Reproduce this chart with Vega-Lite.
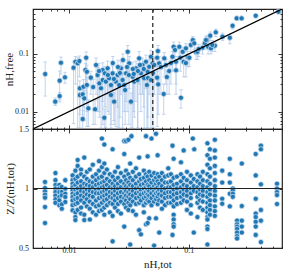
{
"$schema": "https://vega.github.io/schema/vega-lite/v6.json",
"padding": {"left": 2, "top": 4, "right": 5, "bottom": 0},
"spacing": 0,
"bounds": "flush",
"config": {
  "font": "Liberation Serif",
  "view": {"stroke": "#222", "strokeWidth": 1.2},
  "axis": {"grid": false, "domain": false, "labelFont": "Liberation Serif", "labelFontSize": 8, "labelColor": "#222", "tickColor": "#222", "tickWidth": 0.9, "titleFont": "Liberation Serif", "titleFontWeight": "normal", "titleFontSize": 11, "titleColor": "#222", "labelFlush": false, "labelOverlap": false}
},
"datasets": {
  "top": [
{"x":0.00632,"y":0.0449,"lo":0.0186,"hi":0.0724},
{"x":0.00767,"y":0.0149,"lo":0.0128,"hi":0.0172},
{"x":0.00835,"y":0.0186,"lo":0.016,"hi":0.0215},
{"x":0.00835,"y":0.0344,"lo":0.0147,"hi":0.0506},
{"x":0.00856,"y":0.0704,"lo":0.045,"hi":0.088},
{"x":0.00924,"y":0.0393,"lo":0.031,"hi":0.048},
{"x":0.0109,"y":0.0577,"lo":0.0062,"hi":0.072},
{"x":0.0113,"y":0.0733,"lo":0.03,"hi":0.09},
{"x":0.0118,"y":0.0688,"lo":0.0052,"hi":0.086},
{"x":0.0122,"y":0.0753,"lo":0.04,"hi":0.092},
{"x":0.0139,"y":0.086,"lo":0.021,"hi":0.108},
{"x":0.0137,"y":0.0526,"lo":0.03,"hi":0.068},
{"x":0.0141,"y":0.049,"lo":0.0055,"hi":0.064},
{"x":0.0123,"y":0.0254,"lo":0.0052,"hi":0.034},
{"x":0.0123,"y":0.0194,"lo":0.009,"hi":0.026},
{"x":0.013,"y":0.0199,"lo":0.008,"hi":0.027},
{"x":0.0132,"y":0.027,"lo":0.012,"hi":0.036},
{"x":0.0141,"y":0.029,"lo":0.01,"hi":0.039},
{"x":0.0152,"y":0.0388,"lo":0.02,"hi":0.05},
{"x":0.0134,"y":0.017,"lo":0.007,"hi":0.023},
{"x":0.0145,"y":0.0114,"lo":0.0055,"hi":0.016},
{"x":0.013,"y":0.00745,"lo":0.005,"hi":0.0105},
{"x":0.0165,"y":0.011,"lo":0.006,"hi":0.016},
{"x":0.0173,"y":0.0431,"lo":0.01,"hi":0.058},
{"x":0.0179,"y":0.0309,"lo":0.008,"hi":0.042},
{"x":0.0185,"y":0.0254,"lo":0.0052,"hi":0.035},
{"x":0.0191,"y":0.0526,"lo":0.015,"hi":0.07},
{"x":0.0191,"y":0.0353,"lo":0.006,"hi":0.047},
{"x":0.0197,"y":0.00784,"lo":0.005,"hi":0.011},
{"x":0.0199,"y":0.0461,"lo":0.012,"hi":0.06},
{"x":0.0203,"y":0.0331,"lo":0.0052,"hi":0.045},
{"x":0.021,"y":0.0563,"lo":0.02,"hi":0.075},
{"x":0.0216,"y":0.0378,"lo":0.009,"hi":0.05},
{"x":0.0224,"y":0.0289,"lo":0.0052,"hi":0.04},
{"x":0.0224,"y":0.0194,"lo":0.006,"hi":0.027},
{"x":0.0231,"y":0.0461,"lo":0.015,"hi":0.062},
{"x":0.0238,"y":0.0149,"lo":0.006,"hi":0.021},
{"x":0.0246,"y":0.0331,"lo":0.0055,"hi":0.045},
{"x":0.0254,"y":0.0431,"lo":0.012,"hi":0.058},
{"x":0.0262,"y":0.0289,"lo":0.0052,"hi":0.04},
{"x":0.0271,"y":0.0563,"lo":0.02,"hi":0.075},
{"x":0.028,"y":0.0353,"lo":0.0052,"hi":0.048},
{"x":0.0289,"y":0.0289,"lo":0.01,"hi":0.039},
{"x":0.0299,"y":0.0461,"lo":0.015,"hi":0.06},
{"x":0.0309,"y":0.109,"lo":0.05,"hi":0.14},
{"x":0.0318,"y":0.0688,"lo":0.025,"hi":0.09},
{"x":0.0329,"y":0.0149,"lo":0.0052,"hi":0.021},
{"x":0.034,"y":0.0403,"lo":0.0052,"hi":0.055},
{"x":0.035,"y":0.0331,"lo":0.008,"hi":0.045},
{"x":0.0362,"y":0.0563,"lo":0.015,"hi":0.075},
{"x":0.0373,"y":0.0353,"lo":0.0052,"hi":0.048},
{"x":0.0385,"y":0.0839,"lo":0.03,"hi":0.11},
{"x":0.0398,"y":0.0461,"lo":0.01,"hi":0.062},
{"x":0.0411,"y":0.0642,"lo":0.02,"hi":0.085},
{"x":0.0424,"y":0.0378,"lo":0.0052,"hi":0.05},
{"x":0.0439,"y":0.0733,"lo":0.025,"hi":0.095},
{"x":0.0453,"y":0.049,"lo":0.008,"hi":0.065},
{"x":0.0467,"y":0.06,"lo":0.02,"hi":0.08},
{"x":0.0483,"y":0.0894,"lo":0.04,"hi":0.115},
{"x":0.0499,"y":0.0688,"lo":0.02,"hi":0.09},
{"x":0.0168,"y":0.0643,"lo":0.02,"hi":0.085},
{"x":0.0178,"y":0.0505,"lo":0.01,"hi":0.068},
{"x":0.0232,"y":0.0695,"lo":0.02,"hi":0.09},
{"x":0.0256,"y":0.0593,"lo":0.0052,"hi":0.078},
{"x":0.0282,"y":0.0784,"lo":0.03,"hi":0.1},
{"x":0.0316,"y":0.0431,"lo":0.006,"hi":0.058},
{"x":0.0341,"y":0.0548,"lo":0.015,"hi":0.072},
{"x":0.0376,"y":0.0505,"lo":0.0052,"hi":0.068},
{"x":0.0391,"y":0.0643,"lo":0.02,"hi":0.085},
{"x":0.0421,"y":0.0548,"lo":0.012,"hi":0.072},
{"x":0.0456,"y":0.0383,"lo":0.0052,"hi":0.052},
{"x":0.0305,"y":0.0593,"lo":0.01,"hi":0.078},
{"x":0.0237,"y":0.0368,"lo":0.007,"hi":0.05},
{"x":0.0211,"y":0.0431,"lo":0.01,"hi":0.058},
{"x":0.0266,"y":0.0468,"lo":0.008,"hi":0.062},
{"x":0.0347,"y":0.0449,"lo":0.01,"hi":0.06},
{"x":0.0159,"y":0.0267,"lo":0.006,"hi":0.036},
{"x":0.0294,"y":0.0237,"lo":0.006,"hi":0.032},
{"x":0.0552,"y":0.112,"lo":0.06,"hi":0.14},
{"x":0.0544,"y":0.086,"lo":0.03,"hi":0.11},
{"x":0.0565,"y":0.0688,"lo":0.02,"hi":0.09},
{"x":0.0515,"y":0.0643,"lo":0.02,"hi":0.085},
{"x":0.0544,"y":0.0388,"lo":0.0055,"hi":0.05},
{"x":0.0555,"y":0.0297,"lo":0.009,"hi":0.04},
{"x":0.0617,"y":0.0202,"lo":0.009,"hi":0.03},
{"x":0.0624,"y":0.0839,"lo":0.04,"hi":0.105},
{"x":0.0685,"y":0.0505,"lo":0.02,"hi":0.065},
{"x":0.0731,"y":0.0894,"lo":0.05,"hi":0.11},
{"x":0.0747,"y":0.133,"lo":0.09,"hi":0.16},
{"x":0.0767,"y":0.117,"lo":0.07,"hi":0.14},
{"x":0.0782,"y":0.0733,"lo":0.03,"hi":0.09},
{"x":0.0782,"y":0.052,"lo":0.02,"hi":0.068},
{"x":0.0833,"y":0.133,"lo":0.09,"hi":0.16},
{"x":0.086,"y":0.0174,"lo":0.0115,"hi":0.024},
{"x":0.0849,"y":0.086,"lo":0.05,"hi":0.105},
{"x":0.0889,"y":0.109,"lo":0.07,"hi":0.13},
{"x":0.0906,"y":0.0733,"lo":0.04,"hi":0.09},
{"x":0.0946,"y":0.125,"lo":0.09,"hi":0.15},
{"x":0.0977,"y":0.0894,"lo":0.06,"hi":0.11},
{"x":0.101,"y":0.086,"lo":0.06,"hi":0.1},
{"x":0.104,"y":0.143,"lo":0.11,"hi":0.17},
{"x":0.108,"y":0.174,"lo":0.14,"hi":0.2},
{"x":0.111,"y":0.153,"lo":0.12,"hi":0.18},
{"x":0.115,"y":0.107,"lo":0.08,"hi":0.125},
{"x":0.118,"y":0.109,"lo":0.08,"hi":0.13},
{"x":0.13,"y":0.128,"lo":0.1,"hi":0.15},
{"x":0.142,"y":0.174,"lo":0.14,"hi":0.21},
{"x":0.145,"y":0.133,"lo":0.1,"hi":0.16},
{"x":0.151,"y":0.207,"lo":0.17,"hi":0.24},
{"x":0.153,"y":0.125,"lo":0.1,"hi":0.15},
{"x":0.165,"y":0.139,"lo":0.11,"hi":0.16},
{"x":0.168,"y":0.237,"lo":0.2,"hi":0.27},
{"x":0.191,"y":0.199,"lo":0.17,"hi":0.23},
{"x":0.22,"y":0.191,"lo":0.15,"hi":0.22},
{"x":0.232,"y":0.308,"lo":0.27,"hi":0.34},
{"x":0.251,"y":0.414,"lo":0.38,"hi":0.45},
{"x":0.276,"y":0.414,"lo":0.38,"hi":0.45},
{"x":0.362,"y":0.459,"lo":0.43,"hi":0.49},
{"x":0.56,"y":0.538,"lo":0.51,"hi":0.57},
{"x":0.0585,"y":0.0593,"lo":0.02,"hi":0.075},
{"x":0.0644,"y":0.0643,"lo":0.03,"hi":0.08},
{"x":0.0502,"y":0.0468,"lo":0.0052,"hi":0.062},
{"x":0.0656,"y":0.0398,"lo":0.02,"hi":0.05},
{"x":0.0709,"y":0.0695,"lo":0.03,"hi":0.085},
{"x":0.0946,"y":0.0695,"lo":0.04,"hi":0.085},
{"x":0.121,"y":0.122,"lo":0.09,"hi":0.145},
{"x":0.136,"y":0.154,"lo":0.12,"hi":0.18},
{"x":0.157,"y":0.143,"lo":0.11,"hi":0.17},
{"x":0.139,"y":0.174,"lo":0.14,"hi":0.2},
{"x":0.0483,"y":0.0353,"lo":0.0052,"hi":0.048},
{"x":0.0447,"y":0.0289,"lo":0.0052,"hi":0.04}
  ],
  "bot": [
{"x":0.0063,"y":1.055},{"x":0.0063,"y":1.004},{"x":0.0063,"y":0.976},{"x":0.0063,"y":0.948},{"x":0.0063,"y":0.923},{"x":0.0063,"y":0.845},{"x":0.0063,"y":0.71},
{"x":0.0077,"y":1.13},{"x":0.0077,"y":1.07},{"x":0.0077,"y":1.03},{"x":0.0077,"y":1.0},{"x":0.0077,"y":0.97},{"x":0.0077,"y":0.94},{"x":0.0077,"y":0.91},{"x":0.0077,"y":0.88},
{"x":0.0083,"y":1.03},{"x":0.0083,"y":1.0},{"x":0.0083,"y":0.97},{"x":0.0083,"y":0.93},{"x":0.0083,"y":0.9},{"x":0.0083,"y":0.86},
{"x":0.0087,"y":1.013},{"x":0.0087,"y":0.971},{"x":0.0087,"y":0.943},{"x":0.0087,"y":0.867},{"x":0.0087,"y":0.83},
{"x":0.0093,"y":1.07},{"x":0.0093,"y":0.998},{"x":0.0093,"y":0.956},{"x":0.0093,"y":0.929},{"x":0.0093,"y":0.887},
{"x":0.0107,"y":1.11},{"x":0.0107,"y":1.07},{"x":0.0107,"y":1.04},{"x":0.0107,"y":1.01},{"x":0.0107,"y":0.985},{"x":0.0107,"y":0.956},{"x":0.0107,"y":0.929},{"x":0.0107,"y":0.9},{"x":0.0107,"y":0.86},{"x":0.0107,"y":0.817},
{"x":0.0113,"y":1.15},{"x":0.0113,"y":1.08},{"x":0.0113,"y":1.03},{"x":0.0113,"y":0.99},{"x":0.0113,"y":0.95},{"x":0.0113,"y":0.91},{"x":0.0113,"y":0.87},{"x":0.0113,"y":0.8},{"x":0.0113,"y":0.76},{"x":0.0113,"y":0.735},
{"x":0.0118,"y":1.24},{"x":0.0118,"y":1.19},{"x":0.0118,"y":1.1},{"x":0.0118,"y":1.05},{"x":0.0118,"y":1.0},{"x":0.0118,"y":0.96},{"x":0.0118,"y":0.92},{"x":0.0118,"y":0.88},{"x":0.0118,"y":0.82},
{"x":0.0126,"y":1.16},{"x":0.0126,"y":1.12},{"x":0.0126,"y":1.06},{"x":0.0126,"y":1.02},{"x":0.0126,"y":0.98},{"x":0.0126,"y":0.94},{"x":0.0126,"y":0.9},{"x":0.0126,"y":0.84},{"x":0.0126,"y":0.79},
{"x":0.0134,"y":1.26},{"x":0.0134,"y":1.1},{"x":0.0134,"y":1.04},{"x":0.0134,"y":1.0},{"x":0.0134,"y":0.97},{"x":0.0134,"y":0.93},{"x":0.0134,"y":0.88},{"x":0.0134,"y":0.78},{"x":0.0134,"y":0.735},
{"x":0.0141,"y":1.14},{"x":0.0141,"y":1.08},{"x":0.0141,"y":1.03},{"x":0.0141,"y":0.99},{"x":0.0141,"y":0.95},{"x":0.0141,"y":0.91},{"x":0.0141,"y":0.85},
{"x":0.0149,"y":1.16},{"x":0.0149,"y":1.06},{"x":0.0149,"y":1.02},{"x":0.0149,"y":0.98},{"x":0.0149,"y":0.94},{"x":0.0149,"y":0.89},{"x":0.0149,"y":0.83},{"x":0.0149,"y":0.74},
{"x":0.0158,"y":1.2},{"x":0.0158,"y":1.1},{"x":0.0158,"y":1.05},{"x":0.0158,"y":1.01},{"x":0.0158,"y":0.97},{"x":0.0158,"y":0.93},{"x":0.0158,"y":0.87},{"x":0.0158,"y":0.8},
{"x":0.0168,"y":1.12},{"x":0.0168,"y":1.07},{"x":0.0168,"y":1.03},{"x":0.0168,"y":0.99},{"x":0.0168,"y":0.96},{"x":0.0168,"y":0.9},{"x":0.0168,"y":0.85},{"x":0.0168,"y":0.78},
{"x":0.0178,"y":1.23},{"x":0.0178,"y":1.15},{"x":0.0178,"y":1.09},{"x":0.0178,"y":1.04},{"x":0.0178,"y":1.0},{"x":0.0178,"y":0.96},{"x":0.0178,"y":0.92},{"x":0.0178,"y":0.86},{"x":0.0178,"y":0.81},
{"x":0.0188,"y":1.42},{"x":0.0188,"y":1.18},{"x":0.0188,"y":1.1},{"x":0.0188,"y":1.05},{"x":0.0188,"y":1.01},{"x":0.0188,"y":0.97},{"x":0.0188,"y":0.93},{"x":0.0188,"y":0.88},{"x":0.0188,"y":0.82},
{"x":0.0197,"y":1.37},{"x":0.0197,"y":1.21},{"x":0.0197,"y":1.13},{"x":0.0197,"y":1.06},{"x":0.0197,"y":1.02},{"x":0.0197,"y":0.98},{"x":0.0197,"y":0.94},{"x":0.0197,"y":0.9},{"x":0.0197,"y":0.84},{"x":0.0197,"y":0.78},
{"x":0.0207,"y":1.16},{"x":0.0207,"y":1.08},{"x":0.0207,"y":1.03},{"x":0.0207,"y":0.99},{"x":0.0207,"y":0.95},{"x":0.0207,"y":0.91},{"x":0.0207,"y":0.86},
{"x":0.0219,"y":1.12},{"x":0.0219,"y":1.06},{"x":0.0219,"y":1.01},{"x":0.0219,"y":0.97},{"x":0.0219,"y":0.93},{"x":0.0219,"y":0.88},{"x":0.0219,"y":0.8},
{"x":0.0231,"y":1.33},{"x":0.0231,"y":1.1},{"x":0.0231,"y":1.04},{"x":0.0231,"y":1.0},{"x":0.0231,"y":0.96},{"x":0.0231,"y":0.92},{"x":0.0231,"y":0.87},{"x":0.0231,"y":0.77},{"x":0.0231,"y":0.556},
{"x":0.0242,"y":1.14},{"x":0.0242,"y":1.07},{"x":0.0242,"y":1.02},{"x":0.0242,"y":0.98},{"x":0.0242,"y":0.94},{"x":0.0242,"y":0.9},{"x":0.0242,"y":0.84},
{"x":0.0256,"y":1.18},{"x":0.0256,"y":1.09},{"x":0.0256,"y":1.04},{"x":0.0256,"y":1.0},{"x":0.0256,"y":0.96},{"x":0.0256,"y":0.92},{"x":0.0256,"y":0.87},{"x":0.0256,"y":0.81},
{"x":0.0271,"y":1.13},{"x":0.0271,"y":1.06},{"x":0.0271,"y":1.01},{"x":0.0271,"y":0.97},{"x":0.0271,"y":0.93},{"x":0.0271,"y":0.89},{"x":0.0271,"y":0.79},
{"x":0.0289,"y":1.4},{"x":0.0289,"y":1.29},{"x":0.0289,"y":1.1},{"x":0.0289,"y":1.04},{"x":0.0289,"y":1.0},{"x":0.0289,"y":0.96},{"x":0.0289,"y":0.92},{"x":0.0289,"y":0.87},{"x":0.0289,"y":0.68},
{"x":0.0299,"y":1.4},{"x":0.0299,"y":1.15},{"x":0.0299,"y":1.07},{"x":0.0299,"y":1.02},{"x":0.0299,"y":0.98},{"x":0.0299,"y":0.94},{"x":0.0299,"y":0.9},{"x":0.0299,"y":0.84},
{"x":0.0313,"y":1.41},{"x":0.0313,"y":1.12},{"x":0.0313,"y":1.05},{"x":0.0313,"y":1.01},{"x":0.0313,"y":0.97},{"x":0.0313,"y":0.93},{"x":0.0313,"y":0.88},{"x":0.0313,"y":0.82},
{"x":0.0324,"y":1.21},{"x":0.0324,"y":1.09},{"x":0.0324,"y":1.03},{"x":0.0324,"y":0.99},{"x":0.0324,"y":0.95},{"x":0.0324,"y":0.91},{"x":0.0324,"y":0.86},{"x":0.0324,"y":0.53},
{"x":0.0332,"y":1.44},
{"x":0.0341,"y":1.14},{"x":0.0341,"y":1.07},{"x":0.0341,"y":1.02},{"x":0.0341,"y":0.98},{"x":0.0341,"y":0.94},{"x":0.0341,"y":0.89},{"x":0.0341,"y":0.81},
{"x":0.0362,"y":1.17},{"x":0.0362,"y":1.1},{"x":0.0362,"y":1.04},{"x":0.0362,"y":1.0},{"x":0.0362,"y":0.96},{"x":0.0362,"y":0.92},{"x":0.0362,"y":0.87},{"x":0.0362,"y":0.78},
{"x":0.0385,"y":1.26},{"x":0.0385,"y":1.12},{"x":0.0385,"y":1.06},{"x":0.0385,"y":1.01},{"x":0.0385,"y":0.97},{"x":0.0385,"y":0.93},{"x":0.0385,"y":0.88},{"x":0.0385,"y":0.65},
{"x":0.0398,"y":1.08},{"x":0.0398,"y":1.03},{"x":0.0398,"y":0.99},{"x":0.0398,"y":0.95},{"x":0.0398,"y":0.9},{"x":0.0398,"y":0.615},
{"x":0.0421,"y":1.15},{"x":0.0421,"y":1.09},{"x":0.0421,"y":1.04},{"x":0.0421,"y":1.0},{"x":0.0421,"y":0.96},{"x":0.0421,"y":0.92},{"x":0.0421,"y":0.86},{"x":0.0421,"y":0.8},
{"x":0.0439,"y":1.44},{"x":0.0439,"y":1.12},{"x":0.0439,"y":1.06},{"x":0.0439,"y":1.01},{"x":0.0439,"y":0.97},{"x":0.0439,"y":0.93},{"x":0.0439,"y":0.88},{"x":0.0439,"y":0.7},
{"x":0.0453,"y":1.27},{"x":0.0453,"y":1.1},{"x":0.0453,"y":1.03},{"x":0.0453,"y":0.99},{"x":0.0453,"y":0.95},{"x":0.0453,"y":0.9},{"x":0.0453,"y":0.71},
{"x":0.0467,"y":1.14},{"x":0.0467,"y":1.07},{"x":0.0467,"y":1.02},{"x":0.0467,"y":0.98},{"x":0.0467,"y":0.94},{"x":0.0467,"y":0.89},{"x":0.0467,"y":0.75},
{"x":0.0488,"y":1.42},{"x":0.0488,"y":1.11},{"x":0.0488,"y":1.05},{"x":0.0488,"y":1.0},{"x":0.0488,"y":0.96},{"x":0.0488,"y":0.92},{"x":0.0488,"y":0.86},
{"x":0.0513,"y":1.13},{"x":0.0513,"y":1.07},{"x":0.0513,"y":1.02},{"x":0.0513,"y":0.98},{"x":0.0513,"y":0.94},{"x":0.0513,"y":0.89},{"x":0.0513,"y":0.52},
{"x":0.0532,"y":1.46},{"x":0.0532,"y":1.09},{"x":0.0532,"y":1.04},{"x":0.0532,"y":1.0},{"x":0.0532,"y":0.96},{"x":0.0532,"y":0.91},{"x":0.0532,"y":0.75},
{"x":0.0549,"y":1.28},{"x":0.0549,"y":1.12},{"x":0.0549,"y":1.06},{"x":0.0549,"y":1.01},{"x":0.0549,"y":0.97},{"x":0.0549,"y":0.93},{"x":0.0549,"y":0.87},
{"x":0.0566,"y":1.1},{"x":0.0566,"y":1.04},{"x":0.0566,"y":0.99},{"x":0.0566,"y":0.95},{"x":0.0566,"y":0.9},{"x":0.0566,"y":0.63},
{"x":0.0596,"y":1.13},{"x":0.0596,"y":1.07},{"x":0.0596,"y":1.02},{"x":0.0596,"y":0.98},{"x":0.0596,"y":0.94},{"x":0.0596,"y":0.89},{"x":0.0596,"y":0.83},
{"x":0.0632,"y":1.1},{"x":0.0632,"y":1.05},{"x":0.0632,"y":1.0},{"x":0.0632,"y":0.96},{"x":0.0632,"y":0.92},{"x":0.0632,"y":0.86},
{"x":0.0673,"y":1.17},{"x":0.0673,"y":1.11},{"x":0.0673,"y":1.05},{"x":0.0673,"y":1.01},{"x":0.0673,"y":0.97},{"x":0.0673,"y":0.93},{"x":0.0673,"y":0.88},
{"x":0.0709,"y":1.12},{"x":0.0709,"y":1.06},{"x":0.0709,"y":1.01},{"x":0.0709,"y":0.97},{"x":0.0709,"y":0.93},{"x":0.0709,"y":0.88},
{"x":0.0731,"y":1.36},{"x":0.0731,"y":0.61},
{"x":0.0747,"y":1.25},{"x":0.0747,"y":1.09},{"x":0.0747,"y":1.03},{"x":0.0747,"y":0.99},{"x":0.0747,"y":0.95},{"x":0.0747,"y":0.9},{"x":0.0747,"y":0.85},{"x":0.0747,"y":0.78},{"x":0.0747,"y":0.74},{"x":0.0747,"y":0.7},{"x":0.0747,"y":0.68},
{"x":0.0796,"y":1.1},{"x":0.0796,"y":1.04},{"x":0.0796,"y":1.0},{"x":0.0796,"y":0.96},{"x":0.0796,"y":0.92},{"x":0.0796,"y":0.87},
{"x":0.086,"y":1.22},{"x":0.086,"y":1.12},{"x":0.086,"y":1.06},{"x":0.086,"y":1.01},{"x":0.086,"y":0.97},{"x":0.086,"y":0.93},{"x":0.086,"y":0.88},
{"x":0.0906,"y":1.32},{"x":0.0906,"y":1.09},{"x":0.0906,"y":1.03},{"x":0.0906,"y":0.99},{"x":0.0906,"y":0.95},{"x":0.0906,"y":0.9},
{"x":0.0965,"y":1.14},{"x":0.0965,"y":1.07},{"x":0.0965,"y":1.02},{"x":0.0965,"y":0.98},{"x":0.0965,"y":0.94},{"x":0.0965,"y":0.89},{"x":0.0965,"y":0.82},
{"x":0.104,"y":1.11},{"x":0.104,"y":1.05},{"x":0.104,"y":1.0},{"x":0.104,"y":0.96},{"x":0.104,"y":0.92},{"x":0.104,"y":0.86},{"x":0.104,"y":0.79},
{"x":0.108,"y":1.42},
{"x":0.11,"y":1.08},{"x":0.11,"y":1.02},{"x":0.11,"y":0.98},{"x":0.11,"y":0.63},
{"x":0.111,"y":1.33},
{"x":0.118,"y":1.12},{"x":0.118,"y":1.06},{"x":0.118,"y":1.01},{"x":0.118,"y":0.97},{"x":0.118,"y":0.93},{"x":0.118,"y":0.88},{"x":0.118,"y":0.76},
{"x":0.124,"y":1.1},{"x":0.124,"y":1.04},{"x":0.124,"y":0.99},{"x":0.124,"y":0.95},{"x":0.124,"y":0.9},{"x":0.124,"y":0.84},
{"x":0.131,"y":1.14},{"x":0.131,"y":1.07},{"x":0.131,"y":1.02},{"x":0.131,"y":0.98},{"x":0.131,"y":0.94},{"x":0.131,"y":0.89},{"x":0.131,"y":0.82},
{"x":0.143,"y":1.38},{"x":0.143,"y":1.28},{"x":0.143,"y":1.2},{"x":0.143,"y":1.12},{"x":0.143,"y":1.06},{"x":0.143,"y":1.01},{"x":0.143,"y":0.97},{"x":0.143,"y":0.93},{"x":0.143,"y":0.88},{"x":0.143,"y":0.84},{"x":0.143,"y":0.8},{"x":0.143,"y":0.76},{"x":0.143,"y":0.74},{"x":0.143,"y":0.68},{"x":0.143,"y":0.66},{"x":0.143,"y":0.53},
{"x":0.15,"y":1.33},{"x":0.15,"y":1.25},{"x":0.15,"y":1.17},{"x":0.15,"y":1.1},{"x":0.15,"y":1.04},{"x":0.15,"y":0.99},{"x":0.15,"y":0.95},{"x":0.15,"y":0.9},{"x":0.15,"y":0.86},{"x":0.15,"y":0.82},{"x":0.15,"y":0.78},
{"x":0.165,"y":1.41},{"x":0.165,"y":1.32},{"x":0.165,"y":1.26},{"x":0.165,"y":1.19},{"x":0.165,"y":1.13},{"x":0.165,"y":1.07},{"x":0.165,"y":1.02},{"x":0.165,"y":0.98},{"x":0.165,"y":0.94},{"x":0.165,"y":0.9},{"x":0.165,"y":0.85},{"x":0.165,"y":0.81},{"x":0.165,"y":0.77},
{"x":0.19,"y":1.15},{"x":0.19,"y":1.05},{"x":0.19,"y":0.914},{"x":0.19,"y":0.872},
{"x":0.22,"y":1.25},{"x":0.22,"y":1.12},{"x":0.22,"y":1.05},{"x":0.22,"y":0.956},{"x":0.22,"y":0.85},
{"x":0.233,"y":1.0},{"x":0.233,"y":0.985},{"x":0.233,"y":0.956},{"x":0.233,"y":0.93},
{"x":0.253,"y":0.73},{"x":0.253,"y":0.7},{"x":0.253,"y":0.68},{"x":0.253,"y":0.66},{"x":0.253,"y":0.63},{"x":0.253,"y":0.6},{"x":0.253,"y":0.58},
{"x":0.277,"y":1.21},{"x":0.277,"y":0.853},{"x":0.277,"y":0.73},{"x":0.277,"y":0.68},{"x":0.277,"y":0.63},
{"x":0.362,"y":1.29},{"x":0.362,"y":1.11},{"x":0.362,"y":0.914},{"x":0.362,"y":0.79},{"x":0.362,"y":0.76},{"x":0.362,"y":0.72},{"x":0.362,"y":0.68},{"x":0.362,"y":0.61},
{"x":0.4,"y":1.36},{"x":0.4,"y":1.33},{"x":0.4,"y":1.035},{"x":0.4,"y":0.82},{"x":0.4,"y":0.73},{"x":0.4,"y":0.55},
{"x":0.545,"y":1.04},{"x":0.545,"y":1.0},{"x":0.545,"y":0.97},{"x":0.545,"y":0.945},{"x":0.545,"y":0.87}
  ],
  "diag": [{"x":0.005,"y":0.005},{"x":0.6,"y":0.6}],
  "vline": [{"xv":0.05}],
  "hline": [{"yv":1}]
},
"vconcat": [
 {
  "width": 249, "height": 120,
  "layer": [
   {"data": {"name": "top"},
    "mark": {"type": "rule", "color": "#aec7e8", "strokeWidth": 1, "opacity": 0.75, "clip": true},
    "encoding": {
      "x": {"field": "x", "type": "quantitative", "scale": {"type": "log", "domain": [0.005, 0.6], "nice": false},
            "axis": {"orient": "bottom", "values": [0.005,0.006,0.007,0.008,0.009,0.01,0.02,0.03,0.04,0.05,0.06,0.07,0.08,0.09,0.1,0.2,0.3,0.4,0.5,0.6], "labels": false, "title": null,
                     "tickSize": {"condition": {"test": "datum.value == 0.01 || datum.value == 0.1", "value": -4}, "value": -2}}},
      "y": {"field": "lo", "type": "quantitative", "scale": {"type": "log", "domain": [0.005, 0.6], "nice": false},
            "axis": {"orient": "left", "values": [0.005,0.006,0.007,0.008,0.009,0.01,0.02,0.03,0.04,0.05,0.06,0.07,0.08,0.09,0.1,0.2,0.3,0.4,0.5,0.6],
                     "labelExpr": "datum.value == 0.01 ? '0.01' : (datum.value == 0.1 ? '0.1' : '')", "labelPadding": 8.5, "title": "nH,free", "titlePadding": 0,
                     "tickSize": {"condition": {"test": "datum.value == 0.01 || datum.value == 0.1", "value": -4}, "value": -2}}},
      "y2": {"field": "hi"}
    }},
   {"data": {"name": "top"},
    "mark": {"type": "tick", "orient": "horizontal", "color": "#aec7e8", "size": 3.5, "thickness": 1, "opacity": 0.75, "clip": true},
    "encoding": {"x": {"field": "x", "type": "quantitative", "axis": null}, "y": {"field": "lo", "type": "quantitative", "axis": null}}},
   {"data": {"name": "top"},
    "mark": {"type": "tick", "orient": "horizontal", "color": "#aec7e8", "size": 3.5, "thickness": 1, "opacity": 0.75, "clip": true},
    "encoding": {"x": {"field": "x", "type": "quantitative", "axis": null}, "y": {"field": "hi", "type": "quantitative", "axis": null}}},
   {"data": {"name": "top"},
    "mark": {"type": "point", "filled": true, "fill": "#1f77b4", "fillOpacity": 1, "opacity": 1, "stroke": "#d6e4f3", "strokeWidth": 0.7, "size": 26, "clip": true},
    "encoding": {"x": {"field": "x", "type": "quantitative", "axis": null}, "y": {"field": "y", "type": "quantitative", "axis": null}}},
   {"data": {"name": "diag"},
    "mark": {"type": "line", "color": "#000", "strokeWidth": 1.2, "clip": true},
    "encoding": {"x": {"field": "x", "type": "quantitative", "axis": null}, "y": {"field": "y", "type": "quantitative", "axis": null}}},
   {"data": {"name": "vline"},
    "mark": {"type": "rule", "color": "#333", "strokeWidth": 1.3, "strokeDash": [4, 3]},
    "encoding": {"x": {"field": "xv", "type": "quantitative", "axis": null}}},
   {"data": {"name": "diag"},
    "mark": {"type": "point", "opacity": 0},
    "encoding": {
      "x": {"field": "x", "type": "quantitative",
            "axis": {"orient": "top", "values": [0.005,0.006,0.007,0.008,0.009,0.01,0.02,0.03,0.04,0.05,0.06,0.07,0.08,0.09,0.1,0.2,0.3,0.4,0.5,0.6], "labels": false, "title": null,
                     "tickSize": {"condition": {"test": "datum.value == 0.01 || datum.value == 0.1", "value": -4}, "value": -2}}},
      "y": {"field": "y", "type": "quantitative",
            "axis": {"orient": "right", "values": [0.005,0.006,0.007,0.008,0.009,0.01,0.02,0.03,0.04,0.05,0.06,0.07,0.08,0.09,0.1,0.2,0.3,0.4,0.5,0.6], "labels": false, "title": null,
                     "tickSize": {"condition": {"test": "datum.value == 0.01 || datum.value == 0.1", "value": -4}, "value": -2}}}
    }}
  ],
  "resolve": {"axis": {"x": "independent", "y": "independent"}}
 },
 {
  "width": 249, "height": 119,
  "layer": [
   {"data": {"name": "bot"},
    "mark": {"type": "point", "filled": true, "fill": "#1f77b4", "fillOpacity": 1, "opacity": 1, "stroke": "#d6e4f3", "strokeWidth": 0.7, "size": 26, "clip": true},
    "encoding": {
      "x": {"field": "x", "type": "quantitative", "scale": {"type": "log", "domain": [0.005, 0.6], "nice": false},
            "axis": {"orient": "bottom", "values": [0.005,0.006,0.007,0.008,0.009,0.01,0.02,0.03,0.04,0.05,0.06,0.07,0.08,0.09,0.1,0.2,0.3,0.4,0.5,0.6],
                     "labelExpr": "datum.value == 0.01 ? '0.01' : (datum.value == 0.1 ? '0.1' : '')", "labelPadding": 2, "title": "nH,tot", "titlePadding": 2,
                     "tickSize": {"condition": {"test": "datum.value == 0.01 || datum.value == 0.1", "value": -4}, "value": -2}}},
      "y": {"field": "y", "type": "quantitative", "scale": {"domain": [0.5, 1.5], "nice": false, "zero": false},
            "axis": {"orient": "left", "values": [0.5, 1, 1.5], "format": "~g", "labelPadding": 8.5, "title": "Z/Z(nH,tot)", "titlePadding": 3, "tickSize": -4}}
    }},
   {"data": {"name": "hline"},
    "mark": {"type": "rule", "color": "#222", "strokeWidth": 1.2},
    "encoding": {"y": {"field": "yv", "type": "quantitative", "axis": null}}},
   {"data": {"name": "hline"},
    "mark": {"type": "point", "opacity": 0},
    "encoding": {
      "x": {"datum": 0.05, "type": "quantitative",
            "axis": {"orient": "top", "values": [0.005,0.006,0.007,0.008,0.009,0.01,0.02,0.03,0.04,0.05,0.06,0.07,0.08,0.09,0.1,0.2,0.3,0.4,0.5,0.6], "labels": false, "title": null,
                     "tickSize": {"condition": {"test": "datum.value == 0.01 || datum.value == 0.1", "value": -4}, "value": -2}}},
      "y": {"field": "yv", "type": "quantitative",
            "axis": {"orient": "right", "values": [0.5, 1, 1.5], "labels": false, "title": null, "tickSize": -4}}
    }}
  ],
  "resolve": {"axis": {"x": "independent", "y": "independent"}}
 }
]
}
